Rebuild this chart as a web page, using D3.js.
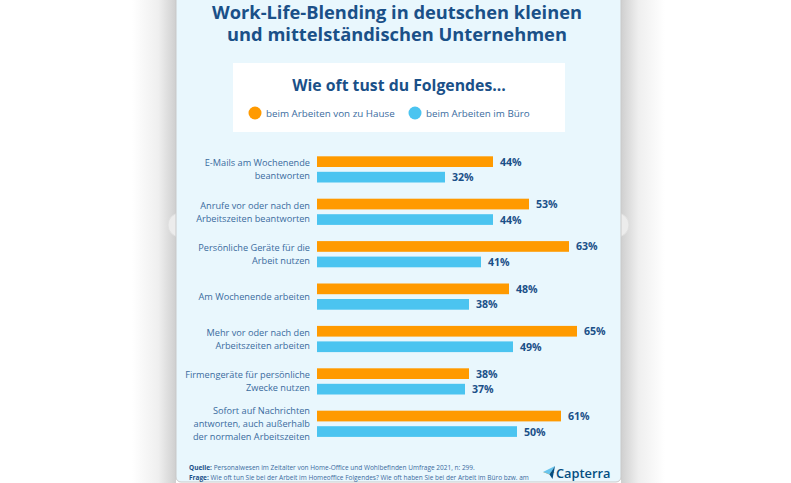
<!DOCTYPE html>
<html><head><meta charset="utf-8">
<script src="https://cdn.jsdelivr.net/npm/d3@7"></script>
<style>
html,body{margin:0;padding:0;background:#fff;overflow:hidden;}
svg{display:block;font-family:"Open Sans",sans-serif;}
</style></head>
<body>
<svg id="c" width="791" height="483"></svg>
<script>
const categories = [
  ["E-Mails am Wochenende","beantworten"],
  ["Anrufe vor oder nach den","Arbeitszeiten beantworten"],
  ["Persönliche Geräte für die","Arbeit nutzen"],
  ["Am Wochenende arbeiten"],
  ["Mehr vor oder nach den","Arbeitszeiten arbeiten"],
  ["Firmengeräte für persönliche","Zwecke nutzen"],
  ["Sofort auf Nachrichten","antworten, auch außerhalb","der normalen Arbeitszeiten"]
];
const seriesNames = ["beim Arbeiten von zu Hause","beim Arbeiten im Büro"];
const homeValues = [44,53,63,48,65,38,61];
const officeValues = [32,44,41,38,49,37,50];
const titleLines = ["Work-Life-Blending in deutschen kleinen","und mittelständischen Unternehmen"];
const subtitle = "Wie oft tust du Folgendes...";
const sourceText = ["Quelle:"," Personalwesen im Zeitalter von Home-Office und Wohlbefinden Umfrage 2021, n: 299."];
const questionText = ["Frage:"," Wie oft tun Sie bei der Arbeit im Homeoffice Folgendes? Wie oft haben Sie bei der Arbeit im Büro bzw. am"];

const colors = ["#ff9a00","#4bc4f0"];
const dark = "#1a5088";
const labelCol = "#3a6b9e";

const svg = d3.select("#c");
const defs = svg.append("defs");
const gl = defs.append("linearGradient").attr("id","shL").attr("x1","0").attr("x2","1");
gl.append("stop").attr("offset","0").attr("stop-color","#fff");
gl.append("stop").attr("offset","0.6").attr("stop-color","#efefef");
gl.append("stop").attr("offset","1").attr("stop-color","#cfcfcf");
const gr = defs.append("linearGradient").attr("id","shR").attr("x1","1").attr("x2","0");
gr.append("stop").attr("offset","0").attr("stop-color","#fff");
gr.append("stop").attr("offset","0.6").attr("stop-color","#efefef");
gr.append("stop").attr("offset","1").attr("stop-color","#cfcfcf");

svg.append("rect").attr("x",0).attr("y",0).attr("width",791).attr("height",483).attr("fill","#fff");
svg.append("rect").attr("x",132).attr("y",0).attr("width",44).attr("height",483).attr("fill","url(#shL)");
svg.append("rect").attr("x",621).attr("y",0).attr("width",44).attr("height",483).attr("fill","url(#shR)");
// carousel bumps
svg.append("circle").attr("cx",180).attr("cy",225).attr("r",12).attr("fill","#ececec").attr("stroke","#e0e0e0");
svg.append("circle").attr("cx",617).attr("cy",225).attr("r",12).attr("fill","#ececec").attr("stroke","#e0e0e0");
// panel
svg.append("rect").attr("x",176).attr("y",-10).attr("width",445).attr("height",492).attr("rx",5)
  .attr("fill","#e9f7fd").attr("stroke","#c9c9c9").attr("stroke-width",1);

// title
svg.append("g").selectAll("text").data(titleLines).join("text")
  .attr("text-anchor","middle").attr("font-size",18.3).attr("font-weight",700).attr("fill",dark)
  .attr("x",397).attr("y",(d,i)=>19+i*21.5).text(d=>d);

// legend box
svg.append("rect").attr("x",233).attr("y",63).attr("width",332).attr("height",69).attr("fill","#fff");
svg.append("text").attr("x",399).attr("y",91).attr("text-anchor","middle")
  .attr("font-size",15.8).attr("font-weight",700).attr("fill",dark).text(subtitle);
const legX = [255,415];
const lg = svg.append("g").selectAll("g").data(seriesNames).join("g")
  .attr("transform",(d,i)=>`translate(${legX[i]},113)`);
lg.append("circle").attr("r",6.5).attr("fill",(d,i)=>colors[i]);
lg.append("text").attr("x",11).attr("y",3.8).attr("font-size",9.8).attr("fill",labelCol).text(d=>d);

// scales
const x = d3.scaleLinear().domain([0,100]).range([317,717]);
const y = d3.scaleBand().domain(d3.range(categories.length)).range([152.3,152.3+7*42.4]).padding(0);
const ys = d3.scaleBand().domain([0,1]).range([4,30.2]).paddingInner(0.31).paddingOuter(0);

const rows = categories.map((c,i)=>({c,i,vals:[homeValues[i],officeValues[i]]}));
const g = svg.append("g").selectAll("g").data(rows).join("g")
  .attr("transform",d=>`translate(0,${y(d.i)})`);

g.selectAll("rect").data(d=>d.vals).join("rect")
  .attr("x",x(0)).attr("y",(v,j)=>ys(j)).attr("width",v=>x(v)-x(0))
  .attr("height",ys.bandwidth()).attr("fill",(v,j)=>colors[j]);

g.selectAll("text.val").data(d=>d.vals).join("text").attr("class","val")
  .attr("x",v=>x(v)+7).attr("y",(v,j)=>ys(j)+ys.bandwidth()/2+4)
  .attr("font-size",10.6).attr("font-weight",700).attr("fill",dark).text(v=>v+"%");

const mid = ys(0) + (ys(1)+ys.bandwidth()-ys(0))/2;
g.each(function(d){
  const n = d.c.length, lh = 13;
  d3.select(this).selectAll("text.cat").data(d.c).join("text").attr("class","cat")
    .attr("x",310).attr("text-anchor","end")
    .attr("y",(t,k)=>mid - (n-1)*lh/2 + k*lh + 3.3)
    .attr("font-size",9.2).attr("fill",labelCol).text(t=>t);
});

// footer
const ft = svg.append("g").attr("font-size",6.5).attr("fill",labelCol);
[sourceText,questionText].forEach((arr,i)=>{
  const t = ft.append("text").attr("x",189).attr("y",470+i*9.5);
  t.append("tspan").attr("font-weight",700).attr("fill",dark).text(arr[0]);
  t.append("tspan").text(arr[1]);
});

// Capterra logo
const logo = svg.append("g").attr("transform","translate(543,466)");
logo.append("path").attr("d","M0,6 L12,6 L6.5,8.5 Z").attr("fill","#ff9d28");
logo.append("path").attr("d","M0,6 L12,0 L6.5,8.5 Z").attr("fill","#68c5ed");
logo.append("path").attr("d","M6.5,8.5 L12,0 L9.5,13 Z").attr("fill","#044d80");
logo.append("text").attr("x",13).attr("y",12).attr("font-size",12.8).attr("font-weight",600)
  .attr("fill","#044d80").text("Capterra");
</script>
</body></html>
